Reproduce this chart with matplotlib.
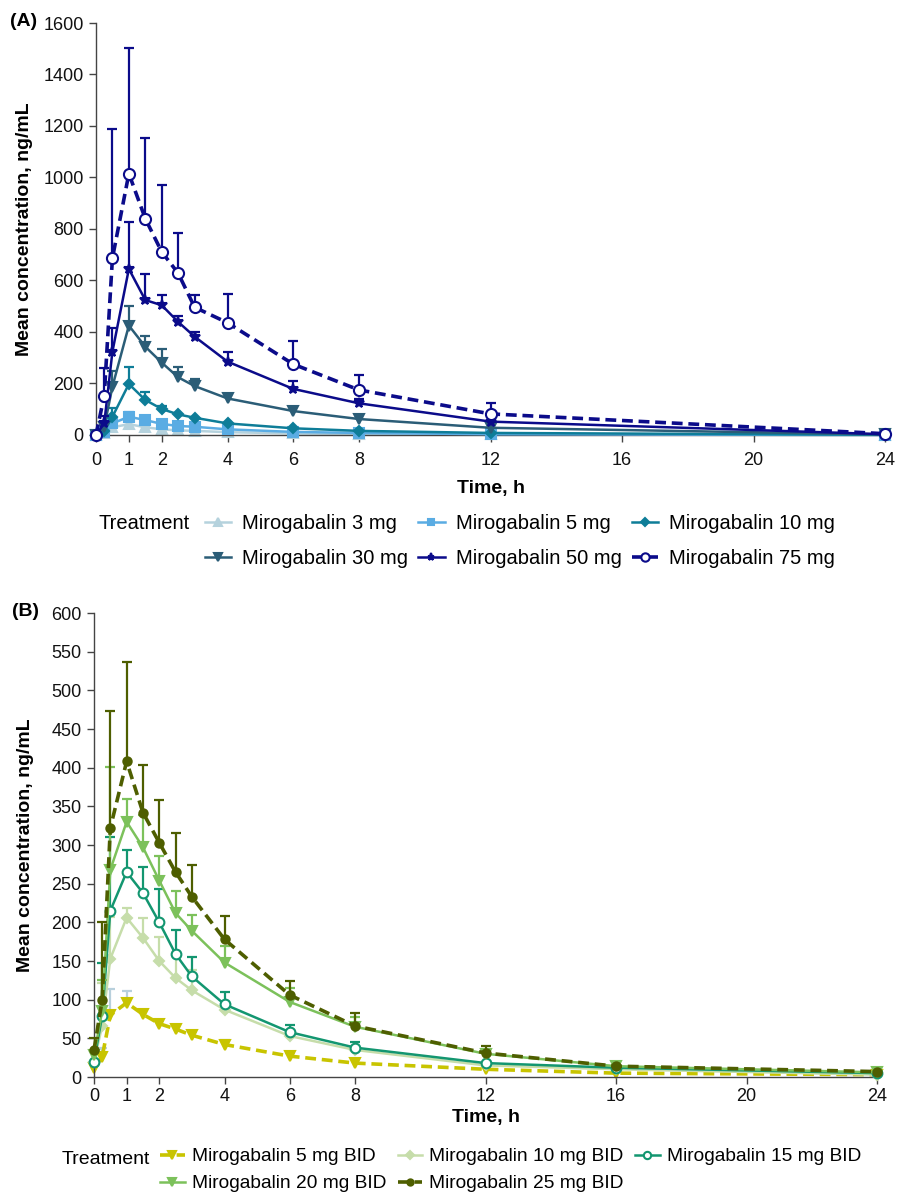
import numpy as np
import matplotlib
matplotlib.use("Agg")
import matplotlib.pyplot as plt
from matplotlib.lines import Line2D

plt.rcParams['font.family'] = ['Liberation Sans', 'DejaVu Sans']

nan = np.nan

# ---------------- Panel A data ----------------
time_a = [0, 0.25, 0.5, 1, 1.5, 2, 2.5, 3, 4, 6, 8, 12, 24]
labels_a = ["Mirogabalin 3 mg", "Mirogabalin 5 mg", "Mirogabalin 10 mg",
            "Mirogabalin 30 mg", "Mirogabalin 50 mg", "Mirogabalin 75 mg"]
mean_3mg = [0, 8, 30, 42, 30, 22, 18, 16, 11, 6, 4, 2, 0]
sd_3mg = [nan, nan, 8, 10, 6, nan, nan, nan, nan, nan, nan, nan, nan]
mean_5mg = [0, 10, 45, 71, 58, 43, 35, 32, 22, 12, 8, 3, 0]
sd_5mg = [nan, nan, 15, 19, 8, 6, nan, nan, nan, nan, nan, nan, nan]
mean_10mg = [0, 15, 71, 198, 136, 101, 80, 67, 45, 26, 16, 8, 1]
sd_10mg = [nan, nan, 35, 65, 32, 10, nan, nan, nan, nan, nan, nan, nan]
mean_30mg = [0, 30, 188, 425, 343, 281, 224, 190, 142, 93, 62, 28, 2]
sd_30mg = [nan, 15, 60, 76, 43, 53, 41, 27, nan, nan, nan, nan, nan]
mean_50mg = [0, 45, 324, 645, 524, 504, 439, 382, 285, 179, 123, 52, 3]
sd_50mg = [nan, 30, 93, 183, 101, 40, 24, 19, 39, 32, 16, 8, nan]
mean_75mg = [0, 153, 687, 1015, 840, 711, 628, 496, 436, 275, 175, 82, 5]
sd_75mg = [nan, 106, 500, 487, 312, 259, 156, 48, 112, 89, 58, 41, nan]

# ---------------- Panel B data ----------------
time_b = [0, 0.25, 0.5, 1, 1.5, 2, 2.5, 3, 4, 6, 8, 12, 16, 24]
labels_b = ["Mirogabalin 5 mg BID", "Mirogabalin 10 mg BID", "Mirogabalin 15 mg BID",
            "Mirogabalin 20 mg BID", "Mirogabalin 25 mg BID"]
mean_5bid = [12, 26, 80, 96, 81, 69, 62, 54, 42, 27, 18, 10, 5, 3]
sd_5bid = [nan, 12, 34, 15, 5, 3, 5, 4, 6, 4, nan, nan, nan, nan]
mean_10bid = [20, 66, 153, 206, 180, 150, 128, 112, 87, 53, 35, 15, 10, 3]
sd_10bid = [nan, 55, 54, 12, 26, 31, 30, 26, nan, nan, nan, nan, nan, nan]
mean_15bid = [20, 79, 215, 265, 238, 200, 159, 130, 94, 58, 38, 18, 12, 5]
sd_15bid = [nan, 68, 95, 29, 34, 43, 31, 25, 16, 9, 7, nan, nan, nan]
mean_20bid = [28, 85, 268, 330, 297, 254, 212, 189, 148, 97, 65, 30, 14, 6]
sd_20bid = [nan, 40, 133, 29, 42, 32, 28, 20, 21, 18, 12, 5, nan, nan]
mean_25bid = [35, 99, 322, 408, 342, 303, 265, 233, 178, 106, 66, 31, 14, 7]
sd_25bid = [15, 101, 151, 128, 61, 55, 51, 41, 30, 18, 17, 9, nan, nan]

xticks = [0, 1, 2, 4, 6, 8, 12, 16, 20, 24]

W, H = 897, 1196
fig = plt.figure(figsize=(W / 100, H / 100), dpi=100)

axA = fig.add_axes([96 / W, 1 - 435 / H, (885 - 96) / W, 412 / H])
axB = fig.add_axes([94 / W, 1 - 1077 / H, (877 - 94) / W, 464 / H])


def draw(ax, t, mean, sd, color, marker, ms, ls, lw, mfc=None, ecolor=None, z=2, mew=1.5):
    t = np.asarray(t, float)
    mean = np.asarray(mean, float)
    sd = np.asarray(sd, float)
    ec = ecolor or color
    ok = ~np.isnan(sd)
    upper = mean + np.where(ok, sd, 0)
    ax.vlines(t[ok], mean[ok], upper[ok], color=ec, lw=1.6, zorder=z)
    ax.plot(t[ok], upper[ok], ls='none', marker='_', ms=7, mew=1.6, color=ec, zorder=z, clip_on=False)
    ax.plot(t, mean, ls=ls, lw=lw, color=color, marker=marker, ms=ms,
            mfc=mfc or color, mec=color, mew=mew, zorder=z + 0.5, clip_on=False)


# Panel A styles
styA = [
    (mean_3mg, sd_3mg, '#b5d2dd', '^', 7, '-', 1.8, None, None),
    (mean_5mg, sd_5mg, '#5aace3', 's', 6.5, '-', 1.8, None, None),
    (mean_10mg, sd_10mg, '#0e7d98', 'D', 5, '-', 1.8, None, None),
    (mean_30mg, sd_30mg, '#2b5d77', 'v', 7, '-', 1.8, None, None),
    (mean_50mg, sd_50mg, '#0b0b8a', '*', 7, '-', 1.8, None, None),
    (mean_75mg, sd_75mg, '#0b0b8a', 'o', 8, (0, (3, 1.6)), 2.6, 'white', None),
]
handlesA = []
for i, (m, s, c, mk, ms, ls, lw, mfc, ec) in enumerate(styA):
    draw(axA, time_a, m, s, c, mk, ms, ls, lw, mfc=mfc, ecolor=ec, z=2 + i)
    handlesA.append(Line2D([], [], color=c, marker=mk, ms=ms * 0.75, ls=ls, lw=lw,
                           mfc=mfc or c, mec=c, mew=1.5))

styB = [
    (mean_5bid, sd_5bid, '#c8c400', 'v', 7, (0, (3, 1.6)), 2.6, None, '#b8d0dc'),
    (mean_10bid, sd_10bid, '#c6ddaa', 'D', 5, '-', 1.8, None, None),
    (mean_15bid, sd_15bid, '#139670', 'o', 7, '-', 1.8, 'white', None),
    (mean_20bid, sd_20bid, '#7cc15b', 'v', 7, '-', 1.8, None, None),
    (mean_25bid, sd_25bid, '#4e5e00', 'o', 6, (0, (3, 1.6)), 2.6, None, None),
]
handlesB = []
for i, (m, s, c, mk, ms, ls, lw, mfc, ec) in enumerate(styB):
    draw(axB, time_b, m, s, c, mk, ms, ls, lw, mfc=mfc, ecolor=ec, z=2 + i)
    handlesB.append(Line2D([], [], color=c, marker=mk, ms=ms * 0.75, ls=ls, lw=lw,
                           mfc=mfc or c, mec=c, mew=1.5))

for ax, ymax, step, xpad, lpad in [(axA, 1600, 200, 7, 8), (axB, 600, 50, 3, 3)]:
    ax.set_xlim(0, 24)
    ax.set_ylim(0, ymax)
    ax.set_xticks(xticks)
    ax.set_yticks(np.arange(0, ymax + 1, step))
    for sp in ['top', 'right']:
        ax.spines[sp].set_visible(False)
    for sp in ['left', 'bottom']:
        ax.spines[sp].set_color('#444444')
        ax.spines[sp].set_linewidth(1.0)
    ax.tick_params(axis='both', direction='out', length=5, width=1, color='#444444',
                   labelsize=13, colors='#111111')
    ax.tick_params(axis='x', pad=xpad)
    ax.tick_params(axis='y', pad=4)
    ax.set_ylabel('Mean concentration, ng/mL', fontsize=14, fontweight='bold')
    ax.set_xlabel('Time, h', fontsize=14, fontweight='bold', labelpad=lpad)

axA.yaxis.set_label_coords(-0.08, 0.5)
axB.yaxis.set_label_coords(-0.077, 0.5)

fig.text(10 / W, 1 - 22 / H, '(A)', fontsize=14, fontweight='bold', va='center', ha='left')
fig.text(12 / W, 1 - 612 / H, '(B)', fontsize=14, fontweight='bold', va='center', ha='left')

# Legends
orderA = [0, 3, 1, 4, 2, 5]
legA = fig.legend([handlesA[i] for i in orderA], [labels_a[i] for i in orderA],
                  ncol=3, loc='upper left', bbox_to_anchor=(205 / W, 1 - 514 / H),
                  frameon=False, fontsize=14.5, borderpad=0, borderaxespad=0,
                  handlelength=1.3, handletextpad=0.55, columnspacing=0.5, labelspacing=0.8)
fig.text(190 / W, 1 - 524 / H, 'Treatment', fontsize=14.5, ha='right', va='center')

orderB = [0, 3, 1, 4, 2]
legB = fig.legend([handlesB[i] for i in orderB], [labels_b[i] for i in orderB],
                  ncol=3, loc='upper left', bbox_to_anchor=(160 / W, 1 - 1148 / H),
                  frameon=False, fontsize=13.8, borderpad=0, borderaxespad=0,
                  handlelength=1.3, handletextpad=0.35, columnspacing=0.6, labelspacing=0.5)
fig.text(150 / W, 1 - 1159 / H, 'Treatment', fontsize=14, ha='right', va='center')

fig.savefig('out.png', dpi=100)
